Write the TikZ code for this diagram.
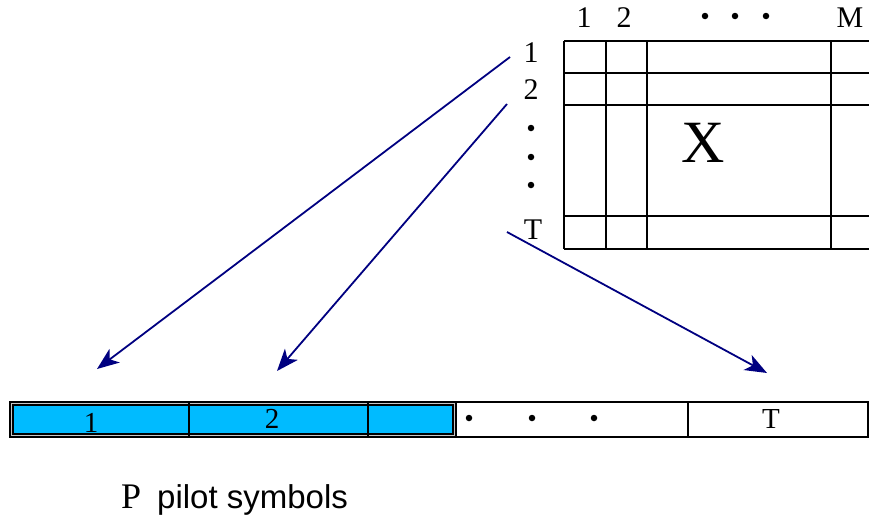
\documentclass[tikz,border=0pt]{standalone}
\usepackage{fontspec}
\setmainfont{Liberation Serif}
\newfontfamily\sansf{Liberation Sans}
\usetikzlibrary{arrows.meta}
\definecolor{pilotblue}{RGB}{0,187,255}
\definecolor{arrowblue}{RGB}{0,0,128}
\begin{document}
\begin{tikzpicture}[x=1pt,y=-1pt,
  grid/.style={line width=2pt},
  barline/.style={line width=1.5pt},
  lab/.style={inner sep=0pt,font=\fontsize{30}{30}\selectfont},
  blab/.style={inner sep=0pt,font=\fontsize{29}{29}\selectfont},
  dotmark/.style={circle,fill=black,inner sep=0pt,minimum size=6.5pt},
  arr/.style={arrowblue,line width=1.8pt,-{Stealth[length=22pt,width=17pt,inset=6pt]}}]
\useasboundingbox (0,0) rectangle (869,520);
% matrix
\draw[grid] (564,41) -- (872,41) (564,73) -- (872,73) (564,105) -- (872,105)
  (564,216) -- (872,216) (564,249) -- (872,249);
\draw[grid] (564,41) -- (564,249) (606,41) -- (606,249) (647,41) -- (647,249) (831,41) -- (831,249);
\node[lab] (c1) at (584,18) {1};
\node[lab] (c2) at (624,18) {2};
\node[dotmark] (cd1) at (705,16) {};
\node[dotmark] (cd2) at (735,16) {};
\node[dotmark] (cd3) at (766,16) {};
\node[lab] (cM) at (850,18) {M};
\node[lab] (r1) at (531,53) {1};
\node[lab] (r2) at (531,90) {2};
\node[dotmark] (rd1) at (531,128) {};
\node[dotmark] (rd2) at (531,157) {};
\node[dotmark] (rd3) at (531,185) {};
\node[lab] (rT) at (533,230) {T};
\node[inner sep=0pt,font=\fontsize{60}{60}\selectfont] (X) at (703,143) {X};
% bar
\draw[barline,fill=gray!45] (10,402) rectangle (456,437);
\draw[barline,fill=pilotblue] (13,405) rectangle (453,434);
\draw[barline] (456,402) rectangle (868,437);
\draw[barline] (189,402) -- (189,437) (368,402) -- (368,437) (688,402) -- (688,437);
\node[blab] (b1) at (91,423) {1};
\node[blab] (b2) at (272,419) {2};
\node[dotmark] (bd1) at (469,418) {};
\node[dotmark] (bd2) at (532,418) {};
\node[dotmark] (bd3) at (594,418) {};
\node[blab] (bT) at (771,419) {T};
\node[inner sep=0pt,anchor=base west,font=\fontsize{36}{36}\selectfont] (pP) at (121,508) {P};
\node[inner sep=0pt,anchor=base west,font=\sansf\fontsize{33}{33}\selectfont] (pilot) at (157,508) {pilot symbols};
% arrows
\coordinate (s1) at (510,57);
\coordinate (e1) at (97,369);
\coordinate (s2) at (507,104);
\coordinate (e2) at (277,371);
\coordinate (s3) at (507,232);
\coordinate (e3) at (767,373);
\draw[arr] (s1) -- (e1);
\draw[arr] (s2) -- (e2);
\draw[arr] (s3) -- (e3);
\end{tikzpicture}
\end{document}
